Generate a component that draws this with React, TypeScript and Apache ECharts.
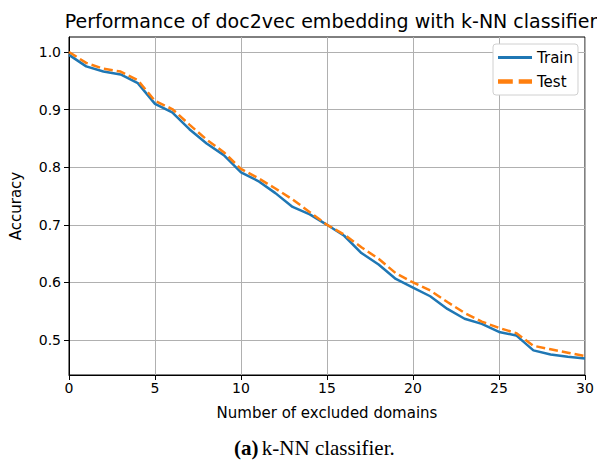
import React, { useEffect, useRef } from "react";
import * as echarts from "echarts";

const xValues = Array.from({ length: 31 }, (_, i) => i);
const trainAcc = [0.995, 0.975, 0.966, 0.961, 0.946, 0.91, 0.895, 0.866, 0.841, 0.821, 0.791, 0.776, 0.755, 0.731, 0.718, 0.7, 0.681, 0.651, 0.631, 0.606, 0.591, 0.576, 0.554, 0.537, 0.528, 0.514, 0.508, 0.482, 0.475, 0.471, 0.468];
const testAcc = [1.0, 0.981, 0.971, 0.966, 0.951, 0.915, 0.901, 0.874, 0.848, 0.826, 0.797, 0.781, 0.763, 0.744, 0.722, 0.7, 0.683, 0.661, 0.641, 0.616, 0.6, 0.586, 0.566, 0.547, 0.532, 0.521, 0.512, 0.49, 0.484, 0.478, 0.472];
const xTicks = [0, 5, 10, 15, 20, 25, 30];
const yTicks = [0.5, 0.6, 0.7, 0.8, 0.9, 1.0];

const FONT = "DejaVu Sans";

export default function App() {
  const ref = useRef<HTMLDivElement>(null);
  useEffect(() => {
    if (!ref.current) return;
    const chart = echarts.init(ref.current, undefined, { renderer: "svg" });
    chart.setOption({
      animation: false,
      backgroundColor: "#fff",
      title: {
        text: "Performance of doc2vec embedding with k-NN classifier",
        left: 326,
        top: 6,
        textAlign: "center",
        textStyle: { fontFamily: FONT, fontSize: 19, fontWeight: "normal", color: "#000" },
      },
      grid: {
        left: 67,
        right: 12,
        top: 37,
        bottom: 86,
        show: true,
        borderColor: "#000",
        borderWidth: 1,
      },
      legend: {
        orient: "vertical",
        right: 19,
        top: 44,
        itemWidth: 34,
        itemHeight: 12,
        itemGap: 9,
        padding: [6, 5, 6, 5],
        backgroundColor: "#fff",
        borderColor: "#d0d0d0",
        borderWidth: 1,
        borderRadius: 3,
        textStyle: { fontFamily: FONT, fontSize: 15, color: "#000" },
        data: [
          { name: "Train", icon: "path://M0,0 L34,0 L34,3 L0,3 Z", itemStyle: { color: "#1f77b4" } },
          { name: "Test", icon: "path://M0,0 L10,0 L10,3 L0,3 Z M14,0 L23,0 L23,3 L14,3 Z", itemStyle: { color: "#ff7f0e" } },
        ],
      },
      xAxis: {
        type: "value",
        min: 0,
        max: 30,
        interval: 5,
        name: "Number of excluded domains",
        nameLocation: "middle",
        nameGap: 30,
        nameTextStyle: { fontFamily: FONT, fontSize: 15, color: "#000" },
        axisLine: { show: true, lineStyle: { color: "#000" } },
        axisTick: { show: true, length: 5, lineStyle: { color: "#000" } },
        axisLabel: {
          fontFamily: FONT,
          fontSize: 14,
          color: "#000",
          margin: 6,
          formatter: (v: number) => (xTicks.includes(v) ? String(v) : ""),
        },
        splitLine: { show: true, lineStyle: { color: "#b0b0b0", width: 1 } },
      },
      yAxis: {
        type: "value",
        min: 0.4393,
        max: 1.026,
        name: "Accuracy",
        nameLocation: "middle",
        nameGap: 46,
        nameRotate: 90,
        nameTextStyle: { fontFamily: FONT, fontSize: 15, color: "#000" },
        axisLine: { show: true, lineStyle: { color: "#000" } },
        axisTick: { show: true, length: 5, lineStyle: { color: "#000" }, customValues: yTicks },
        axisLabel: {
          fontFamily: FONT,
          fontSize: 14,
          color: "#000",
          margin: 8,
          customValues: yTicks,
          formatter: (v: number) => v.toFixed(1),
        },
        splitLine: { show: true, lineStyle: { color: "#b0b0b0", width: 1 } },
      },
      series: [
        {
          name: "Train",
          type: "line",
          data: xValues.map((x, i) => [x, trainAcc[i]]),
          showSymbol: false,
          symbol: "none",
          lineStyle: { color: "#1f77b4", width: 2.5 },
          itemStyle: { color: "#1f77b4" },
          z: 3,
        },
        {
          name: "Test",
          type: "line",
          data: xValues.map((x, i) => [x, testAcc[i]]),
          showSymbol: false,
          symbol: "none",
          lineStyle: { color: "#ff7f0e", width: 2.5, type: [9, 4] },
          itemStyle: { color: "#ff7f0e" },
          z: 4,
        },
      ],
      graphic: [
        {
          type: "text",
          left: 234,
          top: 437,
          style: {
            text: "{b|(a)} {n|k-NN classifier.}",
            rich: {
              b: { fontFamily: "Liberation Serif", fontSize: 21, fontWeight: "bold", fill: "#000" },
              n: { fontFamily: "Liberation Serif", fontSize: 21, fill: "#000" },
            },
          },
        },
      ],
    });
    return () => chart.dispose();
  }, []);
  return <div ref={ref} style={{ width: 597, height: 461, position: "absolute", left: 0, top: 0 }} />;
}
